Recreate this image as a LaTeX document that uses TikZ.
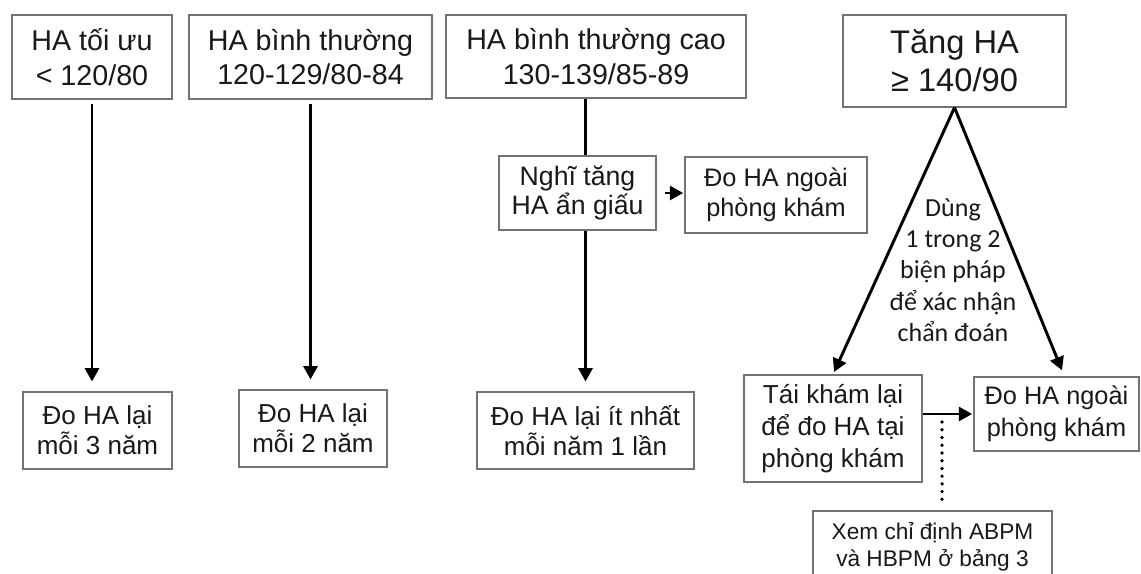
\documentclass[tikz,border=0pt]{standalone}
\usepackage{fontspec}
\setmainfont{Liberation Sans}
\newfontfamily\calibrifont{Carlito}
\usetikzlibrary{arrows.meta}
\begin{document}
\begin{tikzpicture}[x=0.75pt,y=-0.75pt]
    \tikzset{
      box/.style args={#1,#2}{draw=black!55,line width=0.8pt,text=black!90,
        align=center,inner sep=0pt,minimum width=#1*0.75pt,minimum height=#2*0.75pt},
      fs/.style args={#1,#2}{font=\fontsize{#1}{#2}\selectfont},
      arr/.style={black,line width=2.2pt,-{Triangle[length=10pt,width=10.5pt]}},
      link/.style={black,line width=2.2pt},
      dots/.style={black,line width=2.8pt,line cap=round,dash pattern=on 0pt off 5.8pt}
    }
        \useasboundingbox (0,0) rectangle (1141,574);
        \fill[white] (0,0) rectangle (1141,574);
        \clip (0,0) rectangle (1141,574);

        %TOP ROW
        \node[box={160,84},fs={21.5,26}] (opt) at (92,57) {HA tối ưu\\< 120/80};
        \node[box={243,84},fs={21.5,26}] (norm) at (310.5,57) {HA bình thường\\120-129/80-84};
        \node[box={300,83},fs={21.5,26}] (high) at (596,56.5) {HA bình thường cao\\130-139/85-89};
        \node[box={223,92},fs={24.5,28.5}] (hyp) at (954.5,61) {Tăng HA\\≥ 140/90};

        %MIDDLE
        \node[box={157,74},fs={20,22}] (mask) at (577.5,193) {Nghĩ tăng\\HA ẩn giấu};
        \node[box={182,76},fs={19,22.5}] (out1) at (776,195) {Đo HA ngoài\\phòng khám};
        \node[text=black!90,align=center,font=\calibrifont\fontsize{19.5}{23.5}\selectfont] (confirm) at (953,270)
          {Dùng\\1 trong 2\\biện pháp\\để xác nhận\\chẩn đoán};

        %BOTTOM ROW
        \node[box={149,77},fs={19.5,22.5}] (every3) at (97.5,430.5) {Đo HA lại\\mỗi 3 năm};
        \node[box={148,77},fs={19.5,22.5}] (every2) at (313,428.5) {Đo HA lại\\mỗi 2 năm};
        \node[box={217,77},fs={19.5,22.5}] (every1) at (585.5,430.5) {Đo HA lại ít nhất\\mỗi năm 1 lần};
        \node[box={178,107},fs={19.5,24}] (recheck) at (833,428.5) {Tái khám lại\\để đo HA tại\\phòng khám};
        \node[box={165,74},fs={19,24}] (out2) at (1056.5,414) {Đo HA ngoài\\phòng khám};
        \node[box={239,71},fs={17,20}] (abpm) at (932.5,546.5) {Xem chỉ định ABPM\\và HBPM ở bảng 3};
        \coordinate (dotA) at (942,422);

        %ARROWS
        \draw[arr,shorten <=3pt,shorten >=7.5pt] (opt.south) -- (opt.south |- every3.north);
        \draw[arr,shorten <=3pt,shorten >=7.5pt] (norm.south) -- (norm.south |- every2.north);
        \draw[link] (high.south -| every1.north) -- (mask.north -| every1.north);
        \draw[arr,shorten >=7.5pt] (mask.south -| every1.north) -- (every1.north);
        \draw[arr,shorten <=6pt,shorten >=1pt] (mask.east) -- (out1.west |- mask.east);

        \draw[arr,shorten >=2pt] (hyp.south) -- (recheck.north);
        \draw[arr,shorten >=5pt] (hyp.south) -- ([xshift=6pt]out2.north);
        \draw[arr,shorten >=1pt] (recheck.east |- out2.west) -- (out2.west);
        \draw[dots] (dotA) -- ([yshift=8pt]dotA |- abpm.north);
\end{tikzpicture}
\end{document}
